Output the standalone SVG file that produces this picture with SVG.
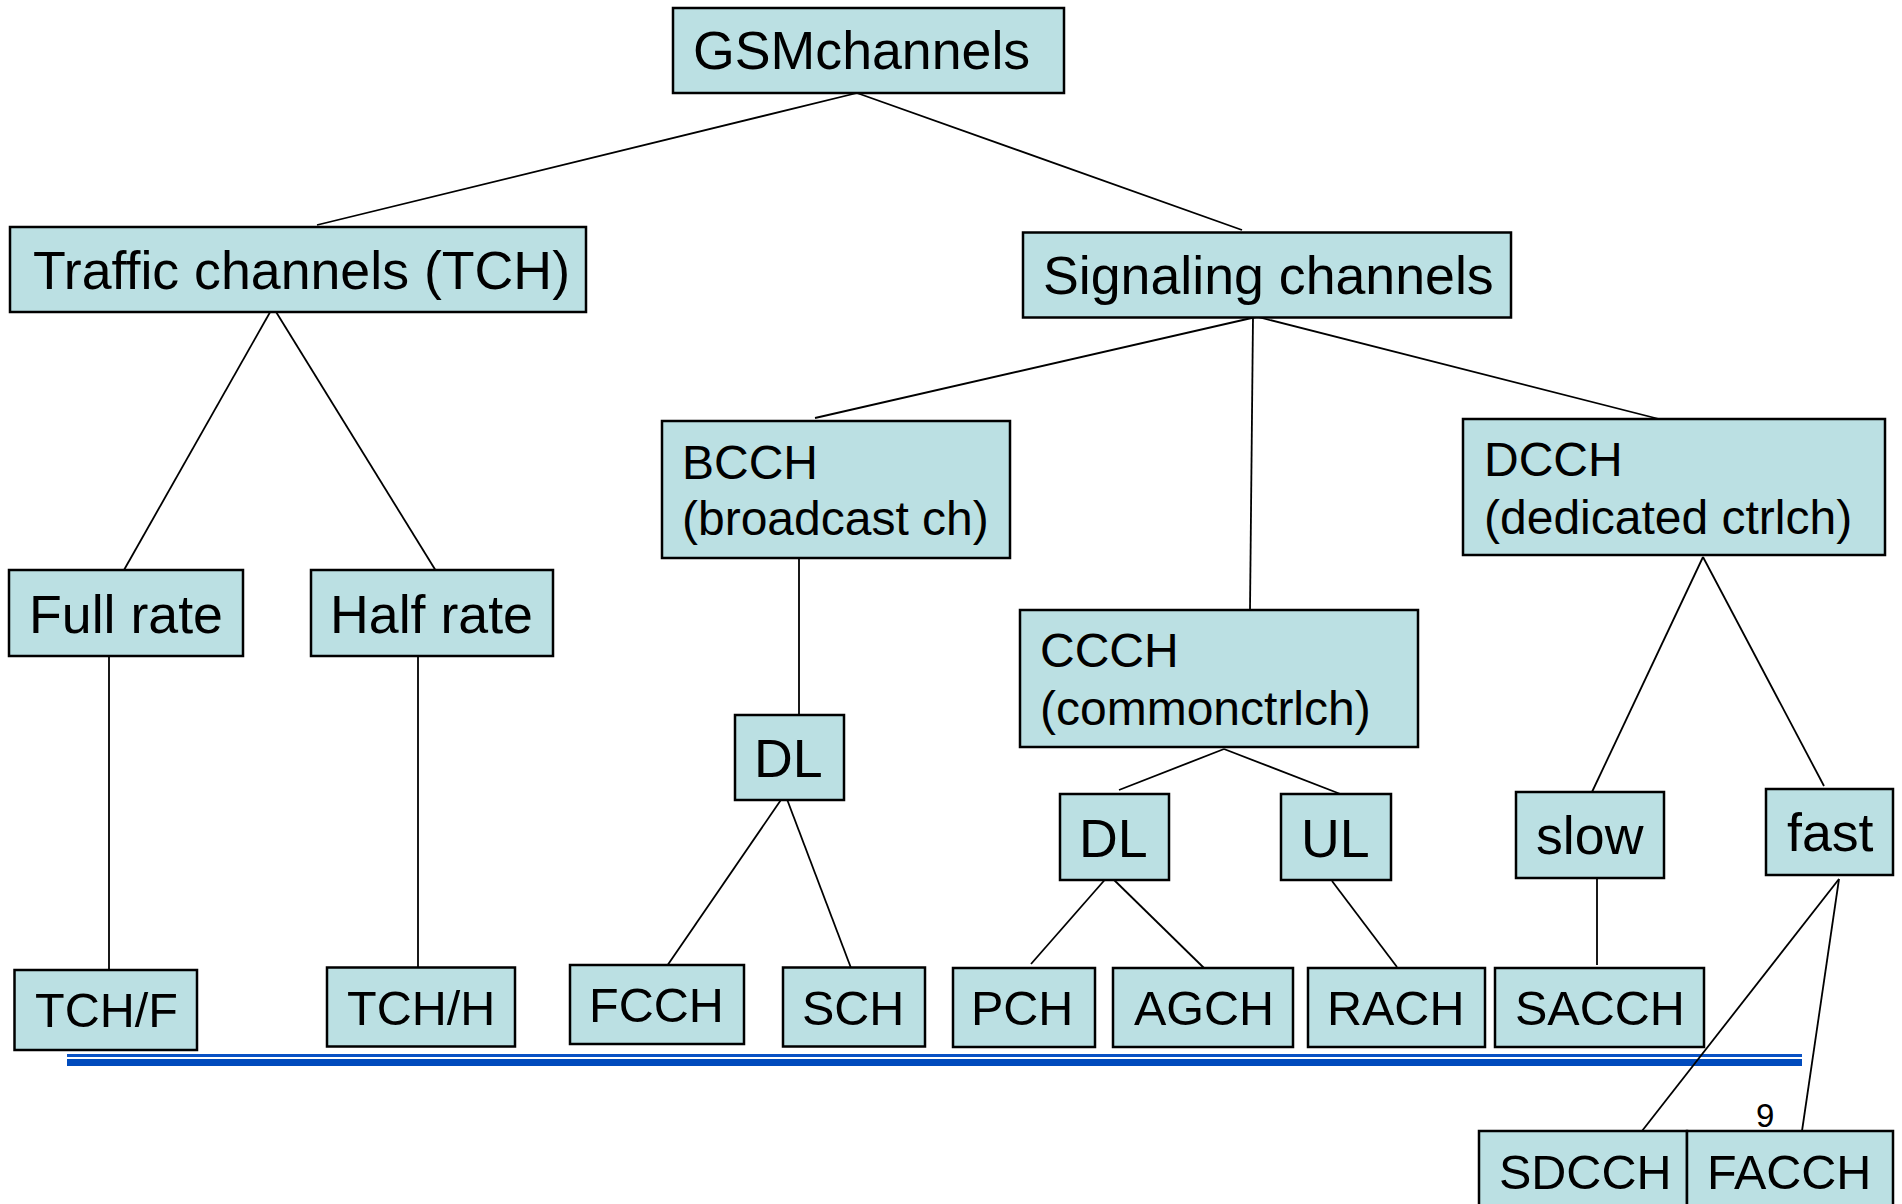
<svg xmlns="http://www.w3.org/2000/svg" width="1902" height="1204" viewBox="0 0 1902 1204">
<style>
.box{fill:#BBE0E3;stroke:#000;stroke-width:2.5}
.t{font-family:"Liberation Sans",Arial,sans-serif;fill:#000}
.L{font-size:53.7px}
.M{font-size:48.5px}
.S{font-size:48px}
.c{stroke:#000;stroke-width:1.8;fill:none}
</style>
<rect width="1902" height="1204" fill="#fff"/>
<g id="rule">
<rect x="67" y="1054" width="1735" height="3" fill="#0a52c4"/>
<rect x="67" y="1059" width="1735" height="7" fill="#004bbd"/>
</g>
<g id="connectors">
<line class="c" x1="857" y1="93" x2="317" y2="225"/>
<line class="c" x1="857" y1="93" x2="1242" y2="230"/>
<line class="c" x1="273" y1="307" x2="124" y2="570"/>
<line class="c" x1="273" y1="307" x2="436" y2="571"/>
<line class="c" x1="1256" y1="317" x2="815" y2="418"/>
<line class="c" x1="1253" y1="317" x2="1250" y2="610"/>
<line class="c" x1="1258" y1="317" x2="1659" y2="419"/>
<line class="c" x1="799" y1="558" x2="799" y2="715"/>
<line class="c" x1="785" y1="794" x2="667" y2="966"/>
<line class="c" x1="785" y1="794" x2="851" y2="968"/>
<line class="c" x1="109" y1="651" x2="109" y2="970"/>
<line class="c" x1="418" y1="653" x2="418" y2="968"/>
<line class="c" x1="1224" y1="749" x2="1119" y2="790"/>
<line class="c" x1="1224" y1="749" x2="1343" y2="795"/>
<line class="c" x1="1109" y1="875" x2="1031" y2="964"/>
<line class="c" x1="1109" y1="875" x2="1204" y2="968"/>
<line class="c" x1="1332" y1="881" x2="1397" y2="967"/>
<line class="c" x1="1703" y1="557" x2="1592" y2="792"/>
<line class="c" x1="1703" y1="557" x2="1824" y2="786"/>
<line class="c" x1="1597" y1="875" x2="1597" y2="965"/>
<line class="c" x1="1839" y1="879" x2="1642" y2="1131"/>
<line class="c" x1="1839" y1="879" x2="1802" y2="1131"/>
</g>
<g id="n-gsm"><rect class="box" x="673" y="8" width="391" height="85"/><text class="t L" x="693" y="69">GSMchannels</text></g>
<g id="n-tch"><rect class="box" x="10" y="227" width="576" height="85"/><text class="t L" x="33" y="289">Traffic channels (TCH)</text></g>
<g id="n-sig"><rect class="box" x="1023" y="232.5" width="488" height="85"/><text class="t L" x="1043" y="294">Signaling channels</text></g>
<g id="n-bcch"><rect class="box" x="662" y="421" width="348" height="137"/><text class="t S" x="682" y="479">BCCH</text><text class="t S" x="682" y="535">(broadcast ch)</text></g>
<g id="n-dcch"><rect class="box" x="1463" y="419" width="422" height="136"/><text class="t S" x="1484" y="476">DCCH</text><text class="t S" x="1484" y="534">(dedicated ctrlch)</text></g>
<g id="n-ccch"><rect class="box" x="1020" y="610" width="398" height="137"/><text class="t S" x="1040" y="667">CCCH</text><text class="t S" x="1040" y="725">(commonctrlch)</text></g>
<g id="n-full"><rect class="box" x="9" y="570" width="234" height="86"/><text class="t L" x="29" y="633">Full rate</text></g>
<g id="n-half"><rect class="box" x="311" y="570" width="242" height="86"/><text class="t L" x="330" y="633">Half rate</text></g>
<g id="n-dl1"><rect class="box" x="735" y="715" width="109" height="85"/><text class="t L" x="754" y="777">DL</text></g>
<g id="n-dl2"><rect class="box" x="1060" y="794" width="109" height="86"/><text class="t L" x="1079" y="857">DL</text></g>
<g id="n-ul"><rect class="box" x="1281" y="794" width="110" height="86"/><text class="t L" x="1301" y="857">UL</text></g>
<g id="n-slow"><rect class="box" x="1516" y="792" width="148" height="86"/><text class="t L" x="1536" y="854">slow</text></g>
<g id="n-fast"><rect class="box" x="1766" y="789" width="127" height="86"/><text class="t L" x="1787" y="851">fast</text></g>
<g id="n-tchf"><rect class="box" x="14.5" y="970" width="182.5" height="80"/><text class="t M" x="35" y="1027">TCH/F</text></g>
<g id="n-tchh"><rect class="box" x="327" y="967.5" width="188" height="79"/><text class="t M" x="347" y="1025">TCH/H</text></g>
<g id="n-fcch"><rect class="box" x="570" y="965" width="174" height="79"/><text class="t M" x="589" y="1022">FCCH</text></g>
<g id="n-sch"><rect class="box" x="783" y="967.5" width="142" height="79"/><text class="t M" x="802" y="1025">SCH</text></g>
<g id="n-pch"><rect class="box" x="953" y="968" width="142" height="79"/><text class="t M" x="971" y="1025">PCH</text></g>
<g id="n-agch"><rect class="box" x="1113" y="968" width="180" height="79"/><text class="t M" x="1134" y="1025">AGCH</text></g>
<g id="n-rach"><rect class="box" x="1308" y="968" width="177" height="79"/><text class="t M" x="1327" y="1025">RACH</text></g>
<g id="n-sacch"><rect class="box" x="1495" y="968" width="209" height="79"/><text class="t M" x="1515" y="1025">SACCH</text></g>
<g id="n-sdcch"><rect class="box" x="1479" y="1131" width="208" height="80"/><text class="t M" x="1499" y="1189">SDCCH</text></g>
<g id="n-facch"><rect class="box" x="1687" y="1131" width="206" height="80"/><text class="t M" x="1707" y="1189">FACCH</text></g>
<text class="t" x="1756" y="1127" font-size="33">9</text>
</svg>
